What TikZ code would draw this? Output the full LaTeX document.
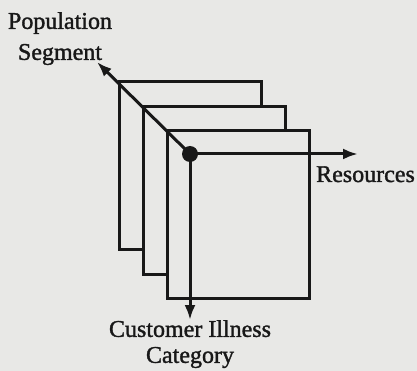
\documentclass[tikz,border=0pt]{standalone}
\usepackage{fontspec}
\setmainfont[FakeBold=1.4]{Liberation Serif}
\usetikzlibrary{arrows.meta}
\definecolor{bg}{HTML}{E8E8E6}
\definecolor{ink}{HTML}{181818}
\begin{document}
\begin{tikzpicture}[x=1pt,y=-1pt,
  plane/.style={draw=ink, line width=3pt, fill=bg, minimum width=142pt, minimum height=167pt, inner sep=0pt, outer sep=0pt, anchor=north west},
  axis/.style={draw=ink, line width=3pt, -{Latex[length=15pt,width=11pt]}},
  lbl/.style={text=ink, font=\fontsize{24}{26}\selectfont, inner sep=0pt, align=center}]
\fill[bg] (0,0) rectangle (417,371);
\useasboundingbox (0,0) rectangle (417,371);
\node[plane] (p1) at (119,82) {};
\node[plane] (p2) at (143,107) {};
\node[plane] (p3) at (167,131) {};
\node[circle, fill=ink, minimum size=16pt, inner sep=0pt] (o) at (190,154) {};
\coordinate (tr) at (358,154);
\coordinate (td) at (190,320);
\coordinate (tp) at (97,62);
\draw[axis] (o.center) -- (tr);
\draw[axis] (o.center) -- (td);
\draw[axis] (o.center) -- (tp);
\node[lbl, anchor=north] (pop) at (60,12) {Population\\[5pt]Segment};
\node[lbl, anchor=base west] (res) at (316,182) {Resources};
\node[lbl, anchor=north] (cic) at (190,320) {Customer Illness\\Category};
\end{tikzpicture}
\end{document}
